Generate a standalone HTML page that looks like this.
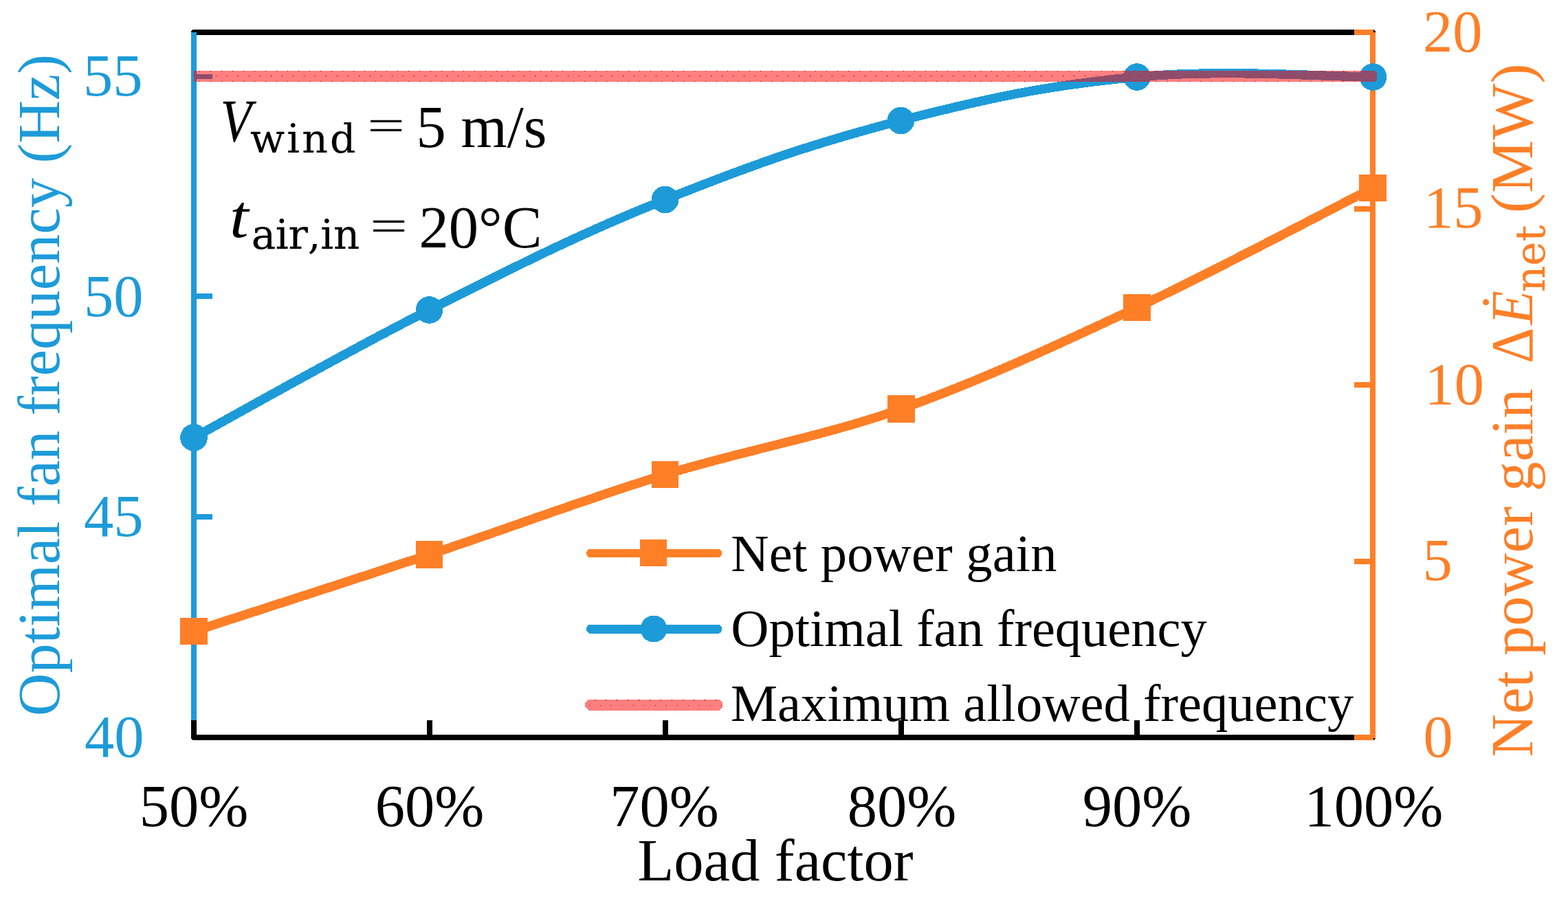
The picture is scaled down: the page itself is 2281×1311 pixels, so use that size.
<!DOCTYPE html>
<html lang="en">
<head>
<meta charset="utf-8">
<title>Optimal fan frequency and net power gain vs load factor</title>
<style>
html,body{margin:0;padding:0;background:#fff;}
body{width:2281px;height:1311px;overflow:hidden;}
svg{display:block;}
text{font-family:"Liberation Serif","DejaVu Serif",serif;font-kerning:none;}
.tk{font-size:86.5px;}
.lg{font-size:76.5px;}
.it{font-style:italic;}
.sub{font-family:"DejaVu Serif","Liberation Serif",serif;font-size:59.5px;stroke-width:0.2px;stroke-linejoin:round;}
#notes .sub{stroke:#000;}
#ylabel-right .sub{stroke:#ff7f27;stroke-width:0.2px;}
</style>
</head>
<body>
<svg width="2281" height="1311" viewBox="0 0 2281 1311">
<defs>
<pattern id="dither" x="0" y="0" width="16" height="16" patternUnits="userSpaceOnUse">
<g stroke="#ff0000" stroke-width="1" stroke-dasharray="1 1" fill="none" shape-rendering="crispEdges">
<path d="M1,0.5H17M1,2.5H17M1,4.5H17M1,6.5H17M1,8.5H17M1,10.5H17M1,12.5H17M1,14.5H17"/>
<path d="M0,1.5H16M0,3.5H16M0,5.5H16M0,7.5H16M0,9.5H16M0,11.5H16M0,13.5H16M0,15.5H16"/>
</g>
<rect x="8" y="0" width="1" height="1" fill="#ff0000" shape-rendering="crispEdges"/>
<rect x="0" y="8" width="1" height="1" fill="#ff0000" shape-rendering="crispEdges"/>
</pattern>
</defs>
<rect width="2281" height="1311" fill="#ffffff"/>

<g id="axes" shape-rendering="crispEdges">
<rect x="278" y="43" width="1692" height="8" fill="#000"/>
<rect x="278" y="1069" width="1692" height="8" fill="#000"/>
<rect x="278" y="47" width="8" height="1001" fill="#1d9bd9"/>
<rect x="278" y="1048" width="8" height="21" fill="#000"/>
<rect x="1993" y="43" width="8" height="1034" fill="#ff7f27"/>
<rect x="621" y="1048" width="8" height="21" fill="#000"/>
<rect x="964" y="1048" width="8" height="21" fill="#000"/>
<rect x="1307" y="1048" width="8" height="21" fill="#000"/>
<rect x="1650" y="1048" width="8" height="21" fill="#000"/>
<rect x="286" y="108" width="23" height="7" fill="#1d9bd9"/>
<rect x="286" y="427" width="23" height="8" fill="#1d9bd9"/>
<rect x="286" y="748" width="23" height="8" fill="#1d9bd9"/>
<rect x="1970" y="43" width="23" height="8" fill="#ff7f27"/>
<rect x="1970" y="300" width="23" height="8" fill="#ff7f27"/>
<rect x="1970" y="556" width="23" height="8" fill="#ff7f27"/>
<rect x="1970" y="813" width="23" height="8" fill="#ff7f27"/>
<rect x="1970" y="1069" width="23" height="8" fill="#ff7f27"/>
<path d="M278,43H280.5L278,45.5Z M278,1077V1074.5L280.5,1077Z M1998,43H2001V45.5Z M2001,1074.5V1077H1998.5Z" fill="#fff"/>
<path d="M1998,43L2001,45.5V47H1998Z M1998,1074H2001V1074.5L1998.5,1077H1998Z" fill="#000"/>
</g>
<g id="series" shape-rendering="crispEdges">
<path d="M282,918.5 C339.1,899.9 510.2,845.0 624.5,807 C738.8,769.0 853.1,725.8 967.5,690.5 C1081.9,655.2 1196.6,635.5 1311,595 C1425.4,554.5 1539.7,501.1 1654,447.5 C1768.3,393.9 1939.8,302.5 1997,273.5" fill="none" stroke="#ff7f27" stroke-width="13.3" stroke-linejoin="round"/>
<rect x="262.25" y="898.75" width="39.5" height="39.5" fill="#ff7f27"/>
<rect x="604.75" y="787.25" width="39.5" height="39.5" fill="#ff7f27"/>
<rect x="947.75" y="670.75" width="39.5" height="39.5" fill="#ff7f27"/>
<rect x="1291.25" y="575.25" width="39.5" height="39.5" fill="#ff7f27"/>
<rect x="1634.25" y="427.75" width="39.5" height="39.5" fill="#ff7f27"/>
<rect x="1977.25" y="253.75" width="39.5" height="39.5" fill="#ff7f27"/>
<path d="M282,636.7 C345.9,602.0 496.5,515.6 624.5,451 C752.5,386.4 839.4,341.9 967.5,290.5 C1095.6,239.1 1182.4,208.8 1310.5,175.5 C1438.6,142.2 1525.8,123.9 1654,112 C1782.2,100.1 1933.4,112.0 1997.5,112" fill="none" stroke="#1d9bd9" stroke-width="13.3" stroke-linejoin="round"/>
<circle cx="282" cy="636.7" r="19.8" fill="#1d9bd9"/>
<circle cx="624.5" cy="451" r="19.8" fill="#1d9bd9"/>
<circle cx="967.5" cy="290.5" r="19.8" fill="#1d9bd9"/>
<circle cx="1310.5" cy="175.5" r="19.8" fill="#1d9bd9"/>
<circle cx="1654" cy="112" r="19.8" fill="#1d9bd9"/>
<circle cx="1997.5" cy="112" r="19.8" fill="#1d9bd9"/>
<g id="limit" shape-rendering="crispEdges">
<g transform="translate(282,103)"><path d="M0,0H1718L1720,2H0Z" fill="url(#dither)"/></g>
<g transform="translate(282,102)"><path d="M0,3H1720L1721,4V14L1718,17H0Z" fill="url(#dither)"/></g>
</g>
</g>
<g id="legend" shape-rendering="crispEdges">
<line x1="859.5" y1="805" x2="1043.8" y2="805" stroke="#ff7f27" stroke-width="12.8" stroke-linecap="round"/>
<rect x="931" y="785" width="39" height="39" fill="#ff7f27"/>
<line x1="859.5" y1="915.3" x2="1043.8" y2="915.3" stroke="#1d9bd9" stroke-width="13.2" stroke-linecap="round"/>
<circle cx="951" cy="915" r="19.5" fill="#1d9bd9"/>
<g transform="translate(857,1018)" shape-rendering="crispEdges"><path d="M-1,0H189L194,5V10L189,16H0L-6,10V5Z" fill="url(#dither)"/></g>
<text class="lg" x="1063.3" y="830.5" letter-spacing="0.2">Net power gain</text>
<text class="lg" x="1063.3" y="940">Optimal fan frequency</text>
<text class="lg" x="1063" y="1049" letter-spacing="0.05">Maximum allowed frequency</text>
</g>
<g id="notes">
<text class="tk it" transform="translate(320.8,205) scale(0.855,1)" stroke="#000" stroke-width="0.25" stroke-linejoin="round">V</text>
<text class="sub" x="364" y="222.3" style="font-size:58.5px" letter-spacing="3.2">wind</text>
<text class="tk" transform="translate(534.3,204.6) scale(1.12,0.75)">=</text>
<text class="tk" x="605.5" y="213.5">5 m/s</text>
<text class="tk it" transform="translate(334,345) scale(1.15,1.04)">t</text>
<text class="sub" x="365.7" y="362" letter-spacing="-0.3">air,in</text>
<text class="tk" transform="translate(538.2,351.4) scale(1.12,0.75)">=</text>
<text class="tk" x="609.6" y="360">20°C</text>
</g>
<g id="ticklabels">
<text class="tk" x="207.5" y="139.0" text-anchor="end" fill="#1d9bd9">55</text>
<text class="tk" x="208.5" y="459.5" text-anchor="end" fill="#1d9bd9">50</text>
<text class="tk" x="208.5" y="780.0" text-anchor="end" fill="#1d9bd9">45</text>
<text class="tk" x="209.5" y="1100.5" text-anchor="end" fill="#1d9bd9">40</text>
<text class="tk" x="2070" y="74.5" fill="#ff7f27">20</text>
<text class="tk" x="2071" y="331.0" fill="#ff7f27">15</text>
<text class="tk" x="2072.5" y="587.5" fill="#ff7f27">10</text>
<text class="tk" x="2069.5" y="844.0" fill="#ff7f27">5</text>
<text class="tk" x="2070.5" y="1100.5" fill="#ff7f27">0</text>
<text class="tk" x="282" y="1202" text-anchor="middle">50%</text>
<text class="tk" x="625" y="1202" text-anchor="middle">60%</text>
<text class="tk" x="966.5" y="1202" text-anchor="middle">70%</text>
<text class="tk" x="1312" y="1202" text-anchor="middle">80%</text>
<text class="tk" x="1654" y="1202" text-anchor="middle">90%</text>
<text class="tk" x="1998.5" y="1202" text-anchor="middle">100%</text>
<text class="tk" x="1128" y="1281" text-anchor="middle">Load factor</text>
</g>
<g id="ylabel-left" transform="translate(86,560.5) rotate(-90)" fill="#1d9bd9">
<text class="tk" x="0" y="0" text-anchor="middle">Optimal fan frequency (Hz)</text>
</g>
<g id="ylabel-right" transform="translate(2228.5,0) rotate(-90)" fill="#ff7f27">
<text class="tk" x="-1101.5" y="0" letter-spacing="0.22">Net power gain</text>
<text class="tk" transform="translate(-528.7,0) scale(0.937,1)">Δ</text>
<text class="tk it" transform="translate(-472.5,0) scale(0.94,1)">Ė</text>
<text class="sub" x="-425" y="18.5">net</text>
<text class="tk" x="-310" y="0" letter-spacing="0.5">(MW)</text>
</g>
</svg>
</body>
</html>
